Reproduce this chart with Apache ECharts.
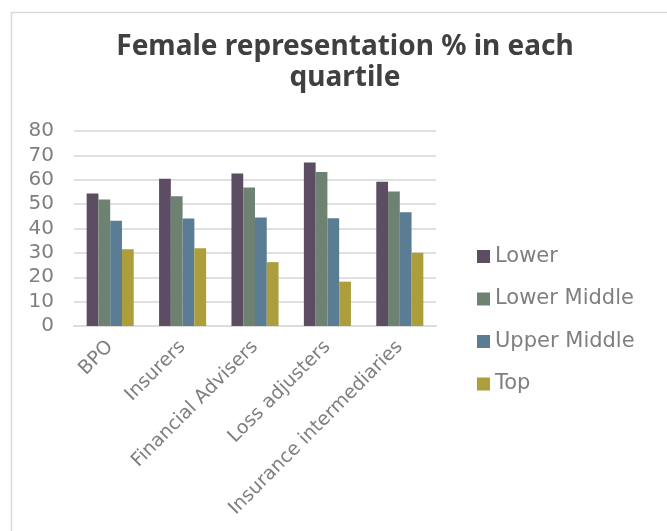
<!DOCTYPE html>
<html>
<head>
<meta charset="utf-8">
<script src="https://cdn.jsdelivr.net/npm/echarts@6/dist/echarts.min.js"></script>
<style>
  html, body { margin: 0; padding: 0; background: #fff; }
  #chart { width: 667px; height: 531px; }
</style>
</head>
<body>
<div id="chart"></div>
<script>
// Sectors along the category axis
const categories = ['BPO', 'Insurers', 'Financial Advisers', 'Loss adjusters', 'Insurance intermediaries'];

// Share of women (%) in each pay quartile, per sector
const lowerValues = [54.4, 60.4, 62.6, 67.1, 59.2];
const lowerMiddleValues = [51.9, 53.2, 56.8, 63.2, 55.2];
const upperMiddleValues = [43.2, 44.1, 44.5, 44.2, 46.7];
const topValues = [31.5, 31.9, 26.2, 18.2, 30.1];

const seriesNames = ['Lower', 'Lower Middle', 'Upper Middle', 'Top'];
const seriesValues = [lowerValues, lowerMiddleValues, upperMiddleValues, topValues];
const seriesColors = ['#5c4d63', '#6e8272', '#5a7d94', '#ac9e3b'];

const labelFont = 'DejaVu Sans';
const labelGrey = '#7f7f7f';

const chart = echarts.init(document.getElementById('chart'), null, { renderer: 'canvas' });

chart.setOption({
  animation: false,
  backgroundColor: '#ffffff',
  graphic: [{
    type: 'rect',
    left: 9,
    top: 10,
    shape: { width: 700, height: 600 },
    style: { fill: 'none', stroke: '#d9d9d9', lineWidth: 1.5 },
    silent: true
  }],
  title: {
    text: 'Female representation % in each\nquartile',
    left: 340,
    top: 27,
    textAlign: 'center',
    textStyle: {
      fontFamily: 'Noto Sans',
      fontWeight: 'bold',
      fontSize: 28,
      lineHeight: 31,
      color: '#404040'
    }
  },
  legend: {
    orient: 'vertical',
    left: 472,
    top: 241,
    itemWidth: 13,
    itemHeight: 13,
    itemGap: 21.5,
    icon: 'rect',
    textStyle: {
      fontFamily: labelFont,
      fontSize: 21,
      lineHeight: 21,
      color: labelGrey
    },
    data: seriesNames
  },
  grid: {
    left: 74,
    right: 231,
    top: 131,
    bottom: 205,
    containLabel: false
  },
  xAxis: {
    type: 'category',
    data: categories,
    axisTick: { show: false },
    axisLine: { lineStyle: { color: '#dcdcdc', width: 2 } },
    axisLabel: {
      rotate: 45,
      margin: 18,
      interval: 0,
      fontFamily: labelFont,
      fontSize: 19,
      color: labelGrey
    }
  },
  yAxis: {
    type: 'value',
    min: 0,
    max: 80,
    interval: 10,
    axisLine: { show: false },
    axisTick: { show: false },
    splitLine: { lineStyle: { color: '#e0e0e0', width: 2 } },
    axisLabel: {
      margin: 20,
      fontFamily: labelFont,
      fontSize: 20,
      color: labelGrey
    }
  },
  series: seriesNames.map((name, i) => ({
    name: name,
    type: 'bar',
    data: seriesValues[i],
    barGap: '0%',
    barCategoryGap: '35%',
    itemStyle: { color: seriesColors[i] }
  }))
});
</script>
</body>
</html>
